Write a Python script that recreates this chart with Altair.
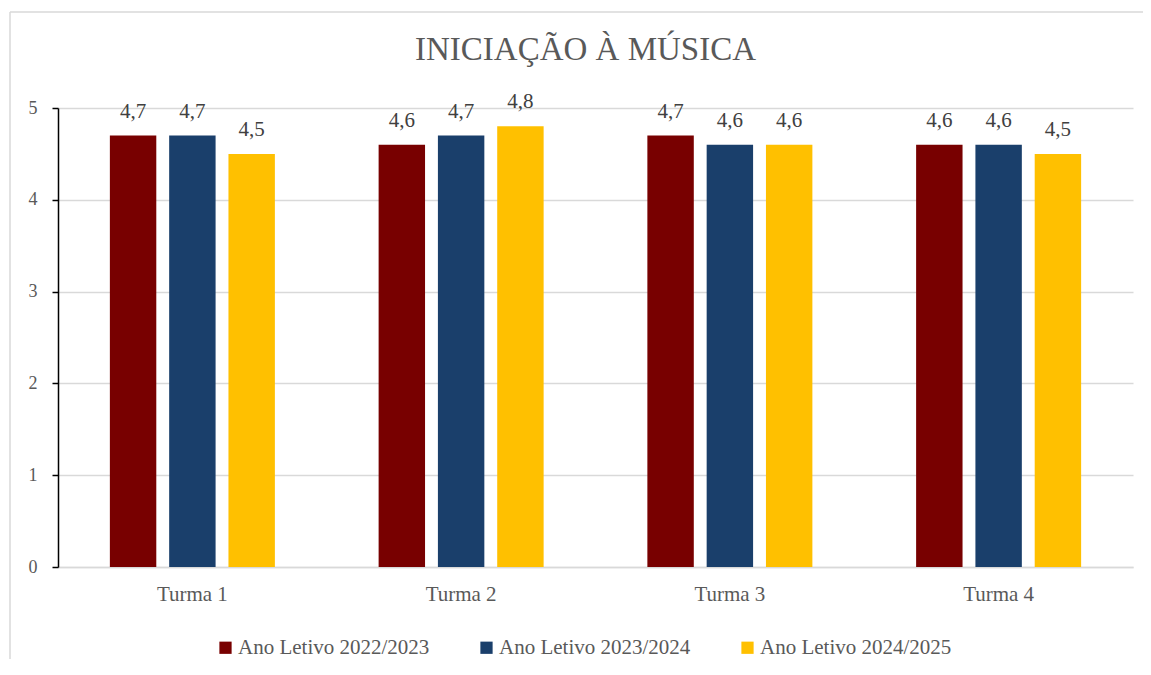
import altair as alt
import pandas as pd

turmas = ["Turma 1", "Turma 2", "Turma 3", "Turma 4"]
anos = ["Ano Letivo 2022/2023", "Ano Letivo 2023/2024", "Ano Letivo 2024/2025"]
v2022 = [4.7, 4.6, 4.7, 4.6]
v2023 = [4.7, 4.7, 4.6, 4.6]
v2024 = [4.5, 4.8, 4.6, 4.5]
cores = ["#780000", "#1A3F6B", "#FFC000"]

rows = []
for i, t in enumerate(turmas):
    for ano, vals in zip(anos, [v2022, v2023, v2024]):
        rows.append({"turma": t, "ano": ano, "valor": vals[i]})
df = pd.DataFrame(rows)

FONT = "Liberation Serif"
GREY = "#595959"

base = alt.Chart(df).transform_calculate(
    rotulo="replace(format(datum.valor, '.1f'), '.', ',')"
)

x_enc = alt.X("turma:N", sort=turmas, title=None,
              scale=alt.Scale(paddingInner=0.386, paddingOuter=0.193),
              axis=alt.Axis(labelAngle=0, ticks=False, grid=False,
                            domainColor="#D9D9D9"))
xoff = alt.XOffset("ano:N", sort=anos,
                   scale=alt.Scale(paddingInner=0.217, paddingOuter=0))
y_enc = alt.Y("valor:Q", title=None,
              scale=alt.Scale(domain=[0, 5], nice=False),
              axis=alt.Axis(values=[0, 1, 2, 3, 4, 5], format="d",
                            tickColor="#000000", domainColor="#000000",
                            gridColor="#D9D9D9"))

bars = base.mark_bar().encode(
    x=x_enc,
    xOffset=xoff,
    y=y_enc,
    color=alt.Color("ano:N", sort=anos, title=None,
                    scale=alt.Scale(domain=anos, range=cores),
                    legend=alt.Legend(orient="none", legendX=157, legendY=529,
                                      direction="horizontal", symbolType="square",
                                      symbolSize=150, symbolStrokeWidth=0,
                                      labelFont=FONT, labelFontSize=21,
                                      labelColor=GREY, columnPadding=46,
                                      labelOffset=2, labelLimit=400)),
)

labels = base.mark_text(baseline="alphabetic", dy=-18, font=FONT, fontSize=21,
                        color="#404040").encode(
    x=x_enc,
    xOffset=xoff,
    y=y_enc,
    text="rotulo:N",
)

frame_data = alt.Data(values=[{"a": 1}])
border_top = alt.Chart(frame_data).mark_rule(
    stroke="#D9D9D9", strokeWidth=1.5
).encode(x=alt.value(-48), x2=alt.value(1100), y=alt.value(-96))
border_left = alt.Chart(frame_data).mark_rule(
    stroke="#D9D9D9", strokeWidth=1.5
).encode(x=alt.value(-48), y=alt.value(-96), y2=alt.value(570))

chart = alt.layer(border_top, border_left, bars, labels).properties(
    width=1075, height=459,
    title=alt.TitleParams("INICIAÇÃO À MÚSICA", font=FONT, fontSize=33,
                          fontWeight="normal", color=GREY, anchor="middle",
                          baseline="alphabetic", dx=-10, offset=-82),
    autosize=alt.AutoSizeParams(type="none"),
    padding={"left": 50, "top": 100, "right": 10, "bottom": 92},
).configure_view(stroke=None).configure_axis(
    labelFont=FONT, labelColor=GREY,
    domainWidth=1.5, tickWidth=1.5, gridWidth=1.5,
).configure_axisX(labelPadding=16, labelFontSize=21).configure_axisY(
    labelPadding=15, tickSize=6, labelFontSize=18)

chart.save("out.html", embed_options={"renderer": "svg", "actions": False})
